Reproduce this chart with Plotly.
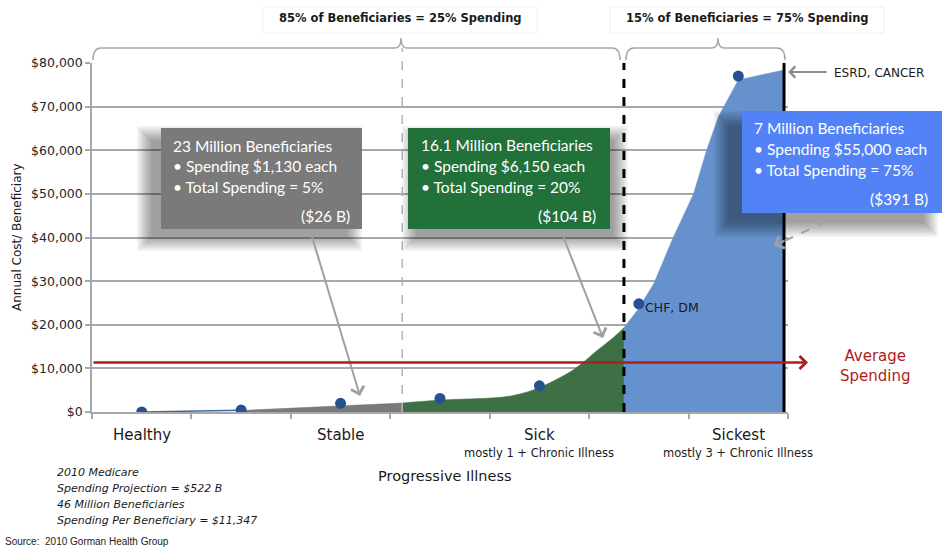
import plotly.graph_objects as go

# ---------------- data ----------------
categories = ["Healthy", "Stable", "Sick", "Sickest"]
category_pos = [0, 2, 4, 6]
category_sub = ["", "", "mostly 1 + Chronic Illness", "mostly 3 + Chronic Illness"]

marker_x = [0, 1, 2, 3, 4, 5, 6]
marker_y = [0, 450, 2000, 3100, 6000, 24800, 77000]

line_x = [0, 1]
line_y = [0, 400]

gray_x = [1.0, 2.0, 2.62]
gray_y = [350, 1400, 2060]

green_x = [2.62, 3.01, 3.64, 3.84, 3.99, 4.29, 4.42, 4.55, 4.75, 4.85]
green_y = [2060, 2750, 3440, 4360, 5500, 8940, 11000, 13530, 17200, 19300]

blue_x = [4.85, 4.99, 5.15, 5.34, 5.55, 5.68, 5.8, 6.0, 6.46]
blue_y = [19300, 23500, 29400, 39700, 50000, 59900, 67700, 76100, 78400]

average_spending = 11347
segment_edges = [2.62, 4.85, 6.46]

y_ticks = [0, 10000, 20000, 30000, 40000, 50000, 60000, 70000, 80000]
y_tick_text = ["$0", "$10,000", "$20,000", "$30,000", "$40,000", "$50,000", "$60,000", "$70,000", "$80,000"]

callouts = [
    ["23 Million Beneficiaries", "• Spending $1,130 each", "• Total Spending = 5%", "($26 B)"],
    ["16.1 Million Beneficiaries", "• Spending $6,150 each", "• Total Spending = 20%", "($104 B)"],
    ["7 Million Beneficiaries", "• Spending $55,000 each", "• Total Spending = 75%", "($391 B)"],
]
bracket_labels = ["85% of Beneficiaries = 25% Spending", "15% of Beneficiaries = 75% Spending"]
notes = ["2010 Medicare", "Spending Projection = $522 B", "46 Million Beneficiaries",
         "Spending Per Beneficiary = $11,347"]

# ---------------- layout helpers ----------------
W, H = 942, 550
L, R, T, B = 92, 788, 63, 412


def px(x):
    return (x - L) / (R - L)


def py(y):
    return (B - y) / (B - T)


FONT = "DejaVu Sans"
CALL_FONT = "Lato"
GRID = "#a8a8a8"

fig = go.Figure()

fig.add_trace(go.Scatter(x=line_x, y=line_y, mode="lines",
                         line=dict(color="#3d66a3", width=1.5), hoverinfo="skip"))
fig.add_trace(go.Scatter(x=gray_x, y=gray_y, mode="lines", fill="tozeroy",
                         fillcolor="#7a7a7a", line=dict(color="#7a7a7a", width=0.5)))
fig.add_trace(go.Scatter(x=green_x, y=green_y, mode="lines", fill="tozeroy",
                         fillcolor="#3e7045", line=dict(color="#3e7045", width=0.5, shape="spline")))
fig.add_trace(go.Scatter(x=blue_x, y=blue_y, mode="lines", fill="tozeroy",
                         fillcolor="#6592cc", line=dict(color="#6592cc", width=0.5)))
fig.add_trace(go.Scatter(x=marker_x, y=marker_y, mode="markers",
                         marker=dict(color="#26508e", size=11)))

shapes = []
annots = []

# vertical lines
shapes.append(dict(type="line", xref="x", yref="paper", x0=segment_edges[0], x1=segment_edges[0],
                   y0=0, y1=py(48), line=dict(color="#b4b4b4", width=1.5, dash="dash"), layer="above"))
shapes.append(dict(type="line", xref="x", yref="paper", x0=segment_edges[1], x1=segment_edges[1],
                   y0=0, y1=1, line=dict(color="black", width=3, dash="dash"), layer="above"))
shapes.append(dict(type="line", xref="x", yref="paper", x0=segment_edges[2], x1=segment_edges[2],
                   y0=0, y1=1.0, line=dict(color="black", width=3), layer="above"))


# brackets
def bracket(x0, xm, x1, yb=48, ye=60, yp=38):
    pts = (f"M{px(x0)},{py(ye)} Q{px(x0)},{py(yb)} {px(x0 + 8)},{py(yb)} "
           f"L{px(xm - 6)},{py(yb)} Q{px(xm)},{py(yb)} {px(xm)},{py(yp)} "
           f"Q{px(xm)},{py(yb)} {px(xm + 6)},{py(yb)} "
           f"L{px(x1 - 8)},{py(yb)} Q{px(x1)},{py(yb)} {px(x1)},{py(ye)}")
    return dict(type="path", xref="paper", yref="paper", path=pts,
                line=dict(color="#a6a6a6", width=1.5), layer="above")


shapes.append(bracket(93, 401, 620))
shapes.append(bracket(626, 718, 785))

# bracket label boxes
for (x0, x1), txt in zip([(263, 537), (610, 884)], bracket_labels):
    shapes.append(dict(type="rect", xref="paper", yref="paper", x0=px(x0), x1=px(x1),
                       y0=py(33), y1=py(7), line=dict(color="#f0f0f0", width=1),
                       fillcolor="white", layer="above"))
    annots.append(dict(xref="paper", yref="paper", x=px((x0 + x1) / 2), y=py(18), text="<b>" + txt + "</b>",
                       showarrow=False, font=dict(family=FONT, size=11.5, color="#1a1a1a"),
                       xanchor="center", yanchor="middle"))


# callout boxes with soft shadows
def shadow(x0, y0, x1, y1, dx, dy):
    n = 10
    for i in range(n):
        g = 12 - i * 1.6
        shapes.append(dict(type="rect", xref="paper", yref="paper",
                           x0=px(x0 + dx - g), x1=px(x1 + dx + g),
                           y0=py(y1 + dy + g), y1=py(y0 + dy - g),
                           fillcolor="rgba(0,0,0,0.045)", line=dict(width=0), layer="above"))


boxes = [
    dict(x0=161, y0=128, x1=362, y1=229, fill="#7a7a7a", dx=-12, dy=10, tx=171, rx=352,
         ys=[146, 166, 187, 216]),
    dict(x0=408, y0=128, x1=610, y1=229, fill="#22703a", dx=6, dy=10, tx=419, rx=598,
         ys=[145, 166, 187, 216]),
    dict(x0=742, y0=111, x1=942, y1=213, fill="#5282f6", dx=-16, dy=12, tx=752, rx=930,
         ys=[128, 149, 170, 199]),
]
for b, lines in zip(boxes, callouts):
    shadow(b["x0"], b["y0"], b["x1"], b["y1"], b["dx"], b["dy"])
    shapes.append(dict(type="rect", xref="paper", yref="paper", x0=px(b["x0"]), x1=px(b["x1"]),
                       y0=py(b["y1"]), y1=py(b["y0"]), fillcolor=b["fill"], line=dict(width=0),
                       layer="above"))
    for i, t in enumerate(lines[:3]):
        annots.append(dict(xref="paper", yref="paper", x=px(b["tx"]), y=py(b["ys"][i]), text=t,
                           showarrow=False, xanchor="left", yanchor="middle",
                           font=dict(family=CALL_FONT, size=15.5, color="white")))
    annots.append(dict(xref="paper", yref="paper", x=px(b["rx"]), y=py(b["ys"][3]), text=lines[3],
                       showarrow=False, xanchor="right", yanchor="middle",
                       font=dict(family=CALL_FONT, size=15.5, color="white")))

# callout pointer arrows
for (sx, sy), (hx, hy) in [((310, 230), (360, 396)), ((561, 231), (603, 338))]:
    annots.append(dict(xref="paper", yref="paper", x=px(hx), y=py(hy), ax=sx - hx, ay=sy - hy,
                       text="", showarrow=True, arrowhead=4, arrowsize=1.3, arrowwidth=2,
                       arrowcolor="#a0a0a0"))
shapes.append(dict(type="line", xref="paper", yref="paper", x0=px(842), y0=py(214), x1=px(778),
                   y1=py(244), line=dict(color="#a0a0a0", width=2, dash="dash"), layer="above"))
annots.append(dict(xref="paper", yref="paper", x=px(774), y=py(246), ax=12, ay=-6,
                   text="", showarrow=True, arrowhead=4, arrowsize=1.3, arrowwidth=2,
                   arrowcolor="#a0a0a0"))

# ESRD arrow and labels
annots.append(dict(xref="paper", yref="paper", x=px(788), y=py(72), ax=40, ay=0, text="",
                   showarrow=True, arrowhead=4, arrowsize=1.2, arrowwidth=1.8, arrowcolor="#8c8c8c"))
annots.append(dict(xref="paper", yref="paper", x=px(832), y=py(73), text="ESRD, CANCER",
                   showarrow=False, xanchor="left", yanchor="middle",
                   font=dict(family=FONT, size=12, color="#1a1a1a")))
annots.append(dict(xref="paper", yref="paper", x=px(643), y=py(307), text="CHF, DM",
                   showarrow=False, xanchor="left", yanchor="middle",
                   font=dict(family=FONT, size=12.5, color="#1a1a1a")))

# average spending arrow
annots.append(dict(xref="paper", yref="y", x=px(808), y=average_spending, ax=-(808 - L), ay=0,
                   text="", showarrow=True, arrowhead=4, arrowsize=1.0, arrowwidth=2.5,
                   arrowcolor="#b01c1c"))
annots.append(dict(xref="paper", yref="paper", x=px(875), y=py(366), text="Average<br>Spending",
                   showarrow=False, xanchor="center", yanchor="middle", align="center",
                   font=dict(family=FONT, size=15, color="#b01c1c")))

# category labels
for c, p, s in zip(categories, category_pos, category_sub):
    annots.append(dict(xref="x", yref="paper", x=p, y=py(435), text=c, showarrow=False,
                       xanchor="center", yanchor="middle",
                       font=dict(family=FONT, size=15, color="#1a1a1a")))
    if s:
        annots.append(dict(xref="x", yref="paper", x=p, y=py(453), text=s, showarrow=False,
                           xanchor="center", yanchor="middle",
                           font=dict(family=FONT, size=11.5, color="#1a1a1a")))

annots.append(dict(xref="paper", yref="paper", x=px(445), y=py(476), text="Progressive Illness",
                   showarrow=False, xanchor="center", yanchor="middle",
                   font=dict(family=FONT, size=14.5, color="#1a1a1a")))
annots.append(dict(xref="paper", yref="paper", x=px(17), y=py(237), text="Annual Cost/ Beneficiary",
                   showarrow=False, xanchor="center", yanchor="middle", textangle=-90,
                   font=dict(family=FONT, size=12, color="#1a1a1a")))

for i, t in enumerate(notes):
    annots.append(dict(xref="paper", yref="paper", x=px(55), y=py(472 + i * 16.3), text="<i>" + t + "</i>",
                       showarrow=False, xanchor="left", yanchor="middle",
                       font=dict(family=FONT, size=11, color="#1a1a1a")))
annots.append(dict(xref="paper", yref="paper", x=px(3), y=py(541), text="Source:  2010 Gorman Health Group",
                   showarrow=False, xanchor="left", yanchor="middle",
                   font=dict(family="Liberation Sans", size=10, color="#222")))

fig.update_layout(
    width=W, height=H,
    margin=dict(l=L, r=W - R, t=T, b=H - B),
    paper_bgcolor="white", plot_bgcolor="white",
    showlegend=False,
    shapes=shapes, annotations=annots,
    xaxis=dict(range=[-0.5, 6.5], tickvals=[v - 0.5 for v in range(8)], ticks="outside",
               ticklen=5, tickcolor=GRID, tickwidth=1.5, showticklabels=False, showgrid=False,
               zeroline=False, showline=True, linecolor=GRID, linewidth=1.5),
    yaxis=dict(range=[0, 80000], tickvals=y_ticks, ticktext=y_tick_text,
               ticks="outside", ticklen=5, tickcolor=GRID, tickwidth=1.5,
               showgrid=True, gridcolor=GRID, gridwidth=1.5, zeroline=False,
               showline=True, linecolor=GRID, linewidth=1.5,
               tickfont=dict(family=FONT, size=12.5, color="#262626")),
)

fig.write_html("out.html", config={"displayModeBar": False},
               post_script="document.body.style.margin='0';document.body.style.padding='0';")
